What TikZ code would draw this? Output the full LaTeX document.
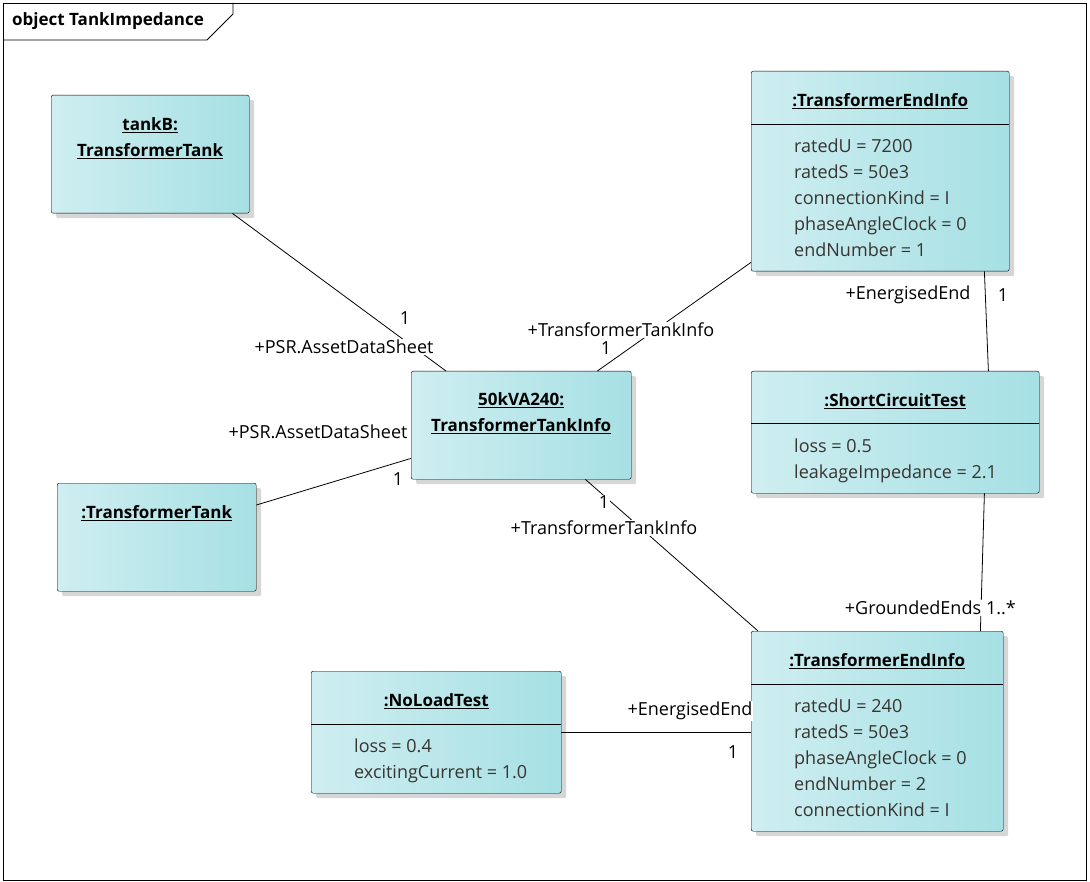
\documentclass[tikz,border=0pt]{standalone}
\usepackage{fontspec}
\setmainfont{Open Sans}
\usetikzlibrary{positioning,shadows}

\definecolor{boxleft}{RGB}{207,238,241}
\definecolor{boxright}{RGB}{166,224,228}
\definecolor{attrgray}{RGB}{56,52,48}

\begin{document}
\begin{tikzpicture}[
  x=1pt, y=-1pt,
  objbox/.style={draw, rounded corners=2pt, left color=boxleft, right color=boxright, anchor=north west, inner sep=0pt,
    drop shadow={shadow xshift=5pt, shadow yshift=-5pt, fill=black!16, opacity=1}},
  objtitle/.style={font=\fontsize{17}{26}\selectfont\bfseries, align=center, inner sep=0pt},
  attrs/.style={font=\fontsize{18}{26}\selectfont, text=attrgray, align=left, anchor=north west, inner sep=0pt},
  role/.style={font=\fontsize{18}{20}\selectfont, fill=white, inner sep=1pt},
  link/.style={draw, line width=0.8pt}
]
\useasboundingbox (0,0) rectangle (1090,882);

% diagram frame and name tab
\draw[line width=0.8pt] (3,3) rectangle (1086,880);
\draw[line width=0.8pt] (3,40) -- (207,40) -- (233,14) -- (233,3);
\node[font=\fontsize{17}{20}\selectfont\bfseries, anchor=west, inner sep=0pt] (frametitle) at (12,21) {object TankImpedance};

% left column: the two tanks
\node[objbox, minimum width=198pt, minimum height=118pt] (tankB) at (51,95) {};
\node[objtitle] (tankBname) at ([yshift=-43pt]tankB.north) {\underline{tankB:}\\\underline{TransformerTank}};

\node[objbox, minimum width=199pt, minimum height=108pt] (tank) at (57,483) {};
\node[objtitle] (tankname) at ([yshift=-30pt]tank.north) {\underline{:TransformerTank}};

% middle: tank info
\node[objbox, minimum width=220pt, minimum height=108pt] (info) at (411,371) {};
\node[objtitle] (infoname) at ([yshift=-42pt]info.north) {\underline{50kVA240:}\\\underline{TransformerTankInfo}};

% no load test
\node[objbox, minimum width=250pt, minimum height=122pt] (noload) at (311,671) {};
\node[objtitle] (noloadname) at ([yshift=-30pt]noload.north) {\underline{:NoLoadTest}};
\draw ([yshift=-53pt]noload.north west) -- ([yshift=-53pt]noload.north east);
\node[attrs] (noloadattr) at ([xshift=43pt, yshift=-68pt]noload.north west) {loss = 0.4\\excitingCurrent = 1.0};

% right column: end infos and short circuit test
\node[objbox, minimum width=258pt, minimum height=200pt] (endA) at (751,71) {};
\node[objtitle] (endAname) at ([yshift=-30pt]endA.north) {\underline{:TransformerEndInfo}};
\draw ([yshift=-53pt]endA.north west) -- ([yshift=-53pt]endA.north east);
\node[attrs] (endAattr) at ([xshift=43pt, yshift=-68pt]endA.north west)
  {ratedU = 7200\\ratedS = 50e3\\connectionKind = I\\phaseAngleClock = 0\\endNumber = 1};

\node[objbox, minimum width=288pt, minimum height=122pt] (sctest) at (751,371) {};
\node[objtitle] (sctestname) at ([yshift=-30pt]sctest.north) {\underline{:ShortCircuitTest}};
\draw ([yshift=-52pt]sctest.north west) -- ([yshift=-52pt]sctest.north east);
\node[attrs] (sctestattr) at ([xshift=43pt, yshift=-68pt]sctest.north west) {loss = 0.5\\leakageImpedance = 2.1};

\node[objbox, minimum width=252pt, minimum height=200pt] (endB) at (751,631) {};
\node[objtitle] (endBname) at ([yshift=-30pt]endB.north) {\underline{:TransformerEndInfo}};
\draw ([yshift=-53pt]endB.north west) -- ([yshift=-53pt]endB.north east);
\node[attrs] (endBattr) at ([xshift=43pt, yshift=-68pt]endB.north west)
  {ratedU = 240\\ratedS = 50e3\\phaseAngleClock = 0\\endNumber = 2\\connectionKind = I};

% links
\draw[link] ([xshift=-17pt]tankB.south east) -- ([xshift=35pt]info.north west);
\draw[link] ([yshift=-22pt]tank.north east) -- ([yshift=21pt]info.south west);
\draw[link] ([yshift=9pt]endA.south west) -- ([xshift=-34pt]info.north east);
\draw[link] ([xshift=-46pt]info.south east) -- ([xshift=7pt]endB.north west);
\draw[link] ([xshift=-25pt]endA.south east) -- ([xshift=-51pt]sctest.north east);
\draw[link] ([xshift=-55pt]sctest.south east) -- ([xshift=-23pt]endB.north east);
\draw[link] (noload.east) -- (noload.east -| endB.west);

% role names and multiplicities
\node[role] (r1m) at (405,318) {1};
\node[role] (r1n) at (344,347) {+PSR.AssetDataSheet};
\node[role] (r2n) at (318,432) {+PSR.AssetDataSheet};
\node[role] (r2m) at (398,479) {1};
\node[role] (r3n) at (621,330) {+TransformerTankInfo};
\node[role] (r3m) at (606,348) {1};
\node[role] (r4m) at (604,502) {1};
\node[role] (r4n) at (604,528) {+TransformerTankInfo};
\node[role] (r5n) at (908,295) {+EnergisedEnd};
\node[role] (r5m) at (1003,295) {1};
\node[role] (r6n) at (913,608) {+GroundedEnds};
\node[role] (r6m) at (1001,608) {1..*};
\node[role] (r7n) at (690,711) {+EnergisedEnd};
\node[role] (r7m) at (733,752) {1};
\end{tikzpicture}
\end{document}
